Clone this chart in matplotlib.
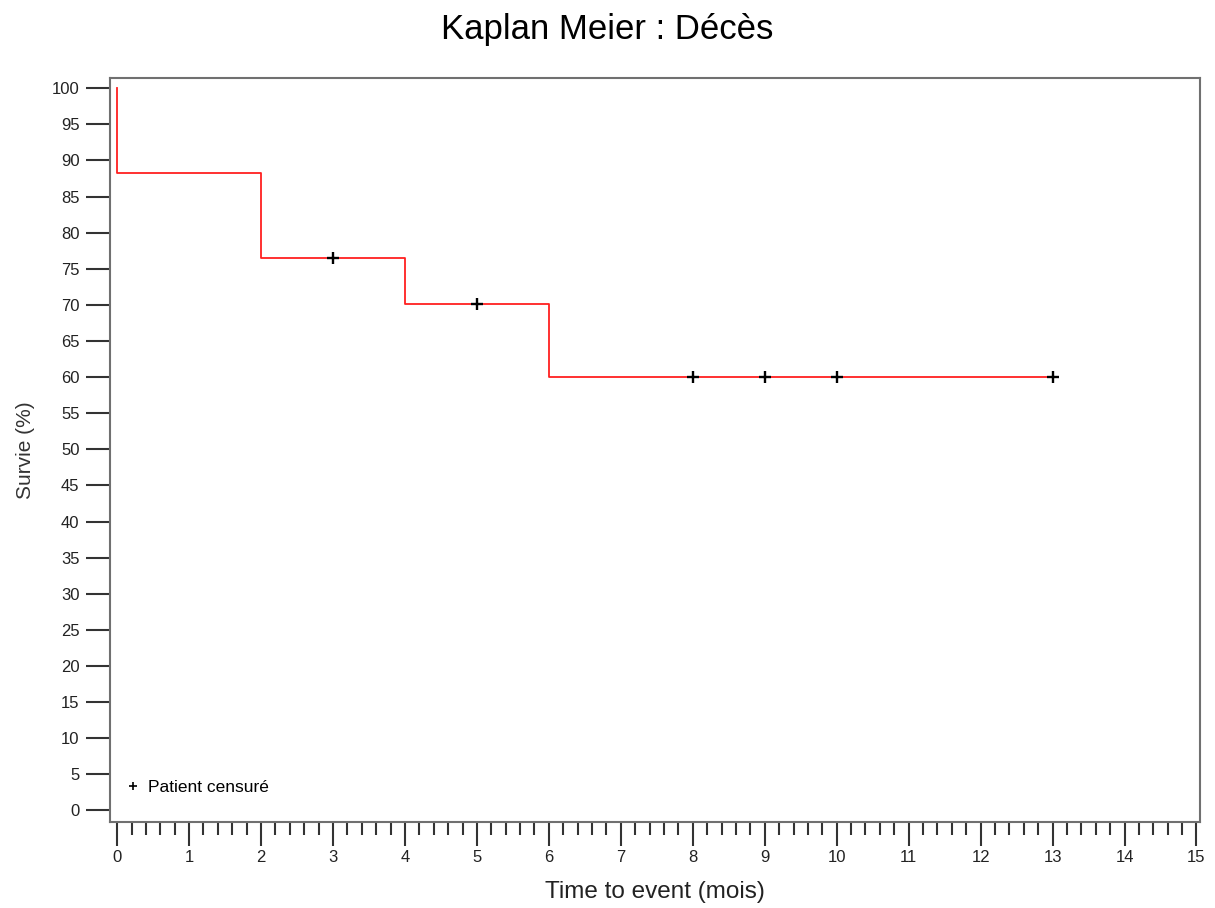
import matplotlib.pyplot as plt
import numpy as np

plt.rcParams['font.family'] = ['Liberation Sans', 'DejaVu Sans']

# courbe de Kaplan-Meier (survie en %)
temps = [0, 0, 2, 4, 6, 13]
survie = [100, 88.24, 76.47, 70.1, 60.08, 60.08]

# patients censurés
t_cens = [3, 5, 8, 9, 10, 13]
s_cens = [76.47, 70.1, 60.08, 60.08, 60.08, 60.08]

fig = plt.figure(figsize=(12.15, 9.08), dpi=100)
ax = fig.add_axes([0.0905, 0.0947, 0.8972, 0.8193])

ax.plot(temps, survie, drawstyle='steps-post', color='#ff2020', linewidth=1.3)
ax.plot(t_cens, s_cens, '+', color='black', markersize=8, markeredgewidth=1.7,
        linestyle='none', label='Patient censuré')

ax.set_xlim(-0.1, 15.05)
ax.set_ylim(-1.6, 101.4)
ax.set_xticks(np.arange(0, 16, 1))
ax.set_xticks(np.arange(0, 15.01, 0.2), minor=True)
ax.set_yticks(np.arange(0, 101, 5))

for s in ax.spines.values():
    s.set_color('#707070')
    s.set_linewidth(1.5)

ax.tick_params(axis='both', which='major', direction='out', length=17, width=1.5,
               color='#333333', labelsize=12, labelcolor='#222222', pad=5)
ax.tick_params(axis='x', which='major', pad=3)
ax.tick_params(axis='x', which='minor', direction='out', length=9, width=1.5,
               color='#333333')
ax.tick_params(axis='y', which='minor', length=0)

fig.suptitle('Kaplan Meier : Décès', fontsize=25, x=0.5, y=1 - 30 / 908, va='center')
ax.set_xlabel('Time to event (mois)', fontsize=17.5, labelpad=12, color='#222222')
ax.set_ylabel('Survie (%)', fontsize=15, labelpad=12, color='#333333')

leg = ax.legend(loc='lower left', frameon=False, fontsize=12.5, handlelength=0.8,
                handletextpad=0.48, borderaxespad=0.5, borderpad=0.4,
                bbox_to_anchor=(0.0, 0.015), markerscale=0.8)
for h in leg.legend_handles:
    h.set_markeredgewidth(1.2)

fig.savefig('out.png', dpi=100)
